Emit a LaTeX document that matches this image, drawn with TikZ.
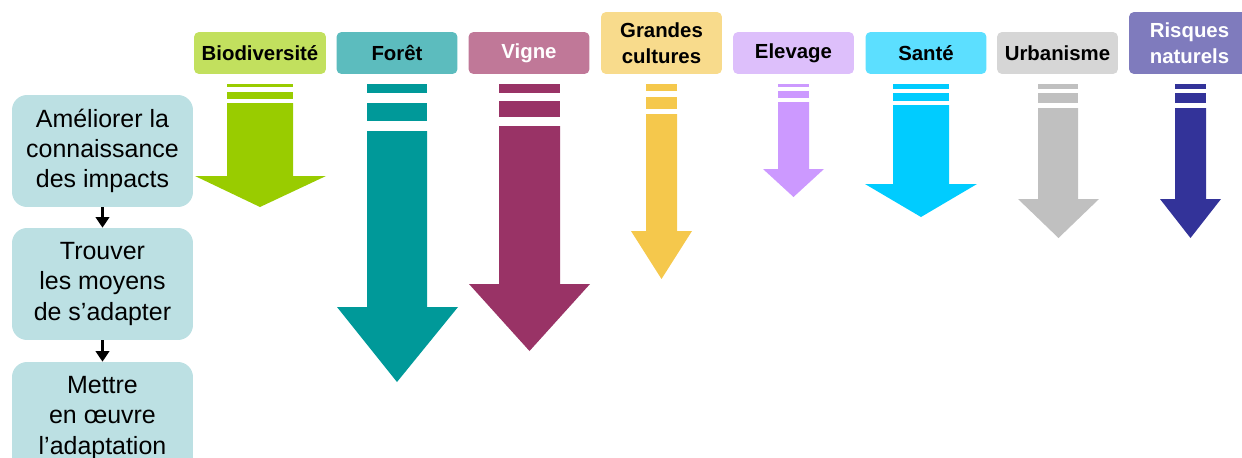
\documentclass[tikz,border=0pt]{standalone}
\usepackage{fontspec}
\setmainfont{Liberation Sans}
\usetikzlibrary{arrows.meta}

\definecolor{boxstep}{HTML}{BCE0E3}
\definecolor{lbio}{HTML}{C2E05E}
\definecolor{fbio}{HTML}{99CC00}
\definecolor{lforet}{HTML}{5CBCBE}
\definecolor{fforet}{HTML}{009999}
\definecolor{lvigne}{HTML}{C07898}
\definecolor{fvigne}{HTML}{993366}
\definecolor{lgrandes}{HTML}{F8DB8C}
\definecolor{fgrandes}{HTML}{F5C84C}
\definecolor{lelevage}{HTML}{DDBFFB}
\definecolor{felevage}{HTML}{CC99FF}
\definecolor{lsante}{HTML}{5CDFFF}
\definecolor{fsante}{HTML}{00CCFF}
\definecolor{lurba}{HTML}{D6D6D6}
\definecolor{furba}{HTML}{C0C0C0}
\definecolor{lrisques}{HTML}{7F7BBD}
\definecolor{frisques}{HTML}{333399}

\tikzset{
  stepbox/.style={fill=boxstep, rounded corners=0.3cm, minimum width=3.62cm,
    minimum height=2.24cm, inner sep=0pt, align=center,
    font=\fontsize{14.2pt}{17.1pt}\selectfont},
  sector/.style={rounded corners=0.1cm, minimum width=2.42cm, minimum height=0.84cm,
    inner sep=0pt, align=center, font=\fontsize{11.6pt}{14.8pt}\selectfont\bfseries},
  stepline/.style={line width=1.2pt, -{Triangle[width=0.27cm,length=0.21cm]}}
}

\begin{document}
\begin{tikzpicture}[x=0.02cm,y=-0.02cm]
        \useasboundingbox (0,0) rectangle (1242,457);
        \clip (0,0) rectangle (1242,457);

        % sectors
        \node[sector, fill=lbio, minimum width=2.64cm] (bio) at (260,53) {Biodiversité};
        \node[sector, fill=lforet] (foret) at (397,53) {Forêt};
        \node[sector, fill=lvigne, text=white] (vigne) at (529,53) {Vigne};
        \node[sector, fill=lgrandes, minimum height=1.24cm] (grandes) at (661.5,43) {Grandes\\cultures};
        \node[sector, fill=lelevage] (elevage) at (793.5,53) {Elevage};
        \node[sector, fill=lsante] (sante) at (926,53) {Santé};
        \node[sector, fill=lurba] (urba) at (1057.5,53) {Urbanisme};
        \node[sector, fill=lrisques, text=white, minimum height=1.24cm] (risques) at (1189.5,43) {Risques\\naturels};

        % steps
        \node[stepbox] (connaitre) at (102.5,151) {Améliorer la\\connaissance\\des impacts};
        \node[stepbox] (trouver) at (102.5,284) {Trouver\\les moyens\\de s’adapter};
        \node[stepbox] (mettre) at (102.5,418) {Mettre\\en œuvre\\l’adaptation};
        \draw[stepline] (connaitre) -- (trouver);
        \draw[stepline] (trouver) -- (mettre);

        % arrows
        \fill[fbio] (227,84) rectangle (293,87);
        \fill[fbio] (227,92) rectangle (293,99);
        \fill[fbio] (227,103) -- (293,103) -- (293,176) -- (326,176) -- (260,207) -- (195,176) -- (227,176) -- cycle;
        \fill[fforet] (367,84) rectangle (427,93);
        \fill[fforet] (367,103) rectangle (427,121);
        \fill[fforet] (367,131) -- (427,131) -- (427,307) -- (458,307) -- (397,382) -- (337,307) -- (367,307) -- cycle;
        \fill[fvigne] (499,84) rectangle (560,93);
        \fill[fvigne] (499,101) rectangle (560,117);
        \fill[fvigne] (499,126) -- (560,126) -- (560,284) -- (590,284) -- (529.5,351) -- (469,284) -- (499,284) -- cycle;
        \fill[fgrandes] (646,84) rectangle (677,91);
        \fill[fgrandes] (646,97) rectangle (677,109);
        \fill[fgrandes] (646,114) -- (677,114) -- (677,231) -- (692,231) -- (661.5,279) -- (631,231) -- (646,231) -- cycle;
        \fill[felevage] (778,84) rectangle (809,87);
        \fill[felevage] (778,91) rectangle (809,98);
        \fill[felevage] (778,102) -- (809,102) -- (809,169) -- (824,169) -- (793.5,197) -- (763,169) -- (778,169) -- cycle;
        \fill[fsante] (893,84) rectangle (949,89);
        \fill[fsante] (893,93) rectangle (949,101);
        \fill[fsante] (893,105) -- (949,105) -- (949,184) -- (977,184) -- (921,217) -- (865,184) -- (893,184) -- cycle;
        \fill[furba] (1038,84) rectangle (1078,89);
        \fill[furba] (1038,93) rectangle (1078,103);
        \fill[furba] (1038,108) -- (1078,108) -- (1078,199) -- (1099,199) -- (1058.5,238) -- (1018,199) -- (1038,199) -- cycle;
        \fill[frisques] (1175,84) rectangle (1206,89);
        \fill[frisques] (1175,93) rectangle (1206,103);
        \fill[frisques] (1175,108) -- (1206,108) -- (1206,199) -- (1221,199) -- (1190.5,238) -- (1160,199) -- (1175,199) -- cycle;
    \end{tikzpicture}
\end{document}
